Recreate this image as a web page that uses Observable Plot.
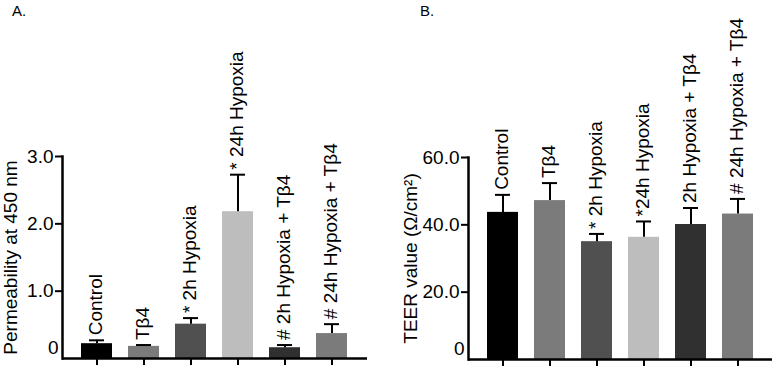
<!DOCTYPE html>
<html>
<head>
<meta charset="utf-8">
<script src="https://cdn.jsdelivr.net/npm/d3@7"></script>
<script src="https://cdn.jsdelivr.net/npm/@observablehq/plot@0.6"></script>
<style>
  html, body { margin: 0; padding: 0; background: #fff; }
  #wrap { position: relative; width: 773px; height: 371px; font-family: "Liberation Sans", Arial, sans-serif; }
  .panel { position: absolute; top: 0; }
  .tag { position: absolute; top: 3px; font-size: 15px; line-height: 15px; color: #000; }
</style>
</head>
<body>
<div id="wrap">
  <div id="A" class="panel" style="left:0px"></div>
  <div id="B" class="panel" style="left:390px"></div>
  <div class="tag" style="left:12px">A.</div>
  <div class="tag" style="left:420px">B.</div>
</div>
<script>
const categories = ["Control", "Tβ4", "2h Hypoxia", "24h Hypoxia", "2h Hypoxia + Tβ4", "24h Hypoxia + Tβ4"];
const barColors = ["#000000", "#7b7b7b", "#505050", "#bdbdbd", "#303030", "#7b7b7b"];

const permMean = [0.22, 0.18, 0.51, 2.18, 0.16, 0.37];
const permSD = [0.05, 0.02, 0.09, 0.55, 0.04, 0.14];
const permLabels = ["Control", "Tβ4", "* 2h Hypoxia", "* 24h Hypoxia", "# 2h Hypoxia + Tβ4", "# 24h Hypoxia + Tβ4"];
const permTicks = [1, 2, 3];

const teerMean = [43.7, 47.2, 35.0, 36.3, 40.1, 43.2];
const teerSD = [5.2, 5.2, 2.3, 4.7, 4.9, 4.5];
const teerLabels = ["Control", "Tβ4", "* 2h Hypoxia", "*24h Hypoxia", "2h Hypoxia + Tβ4", "# 24h Hypoxia + Tβ4"];
const teerTicks = [20, 40, 60];

function panel({mean, sd, labels, ticks, domain, title, width, marginLeft, marginRight, marginTop, marginBottom, xRange, titleOffset}) {
  const rows = categories.map((c, i) => ({name: c, value: mean[i], top: mean[i] + sd[i], label: labels[i], color: barColors[i]}));
  return Plot.plot({
    width, height: 371,
    marginLeft, marginRight, marginTop, marginBottom,
    style: {fontFamily: "Liberation Sans, Arial, sans-serif", fontSize: "19px", color: "#000", background: "transparent", overflow: "visible"},
    x: {domain: categories, range: xRange, paddingInner: 0.33, paddingOuter: 0, axis: null},
    y: {domain, axis: null},
    color: {type: "identity"},
    marks: [
      Plot.barY(rows, {x: "name", y: "value", fill: "color"}),
      Plot.ruleX(rows, {x: "name", y1: "value", y2: "top", stroke: "#000", strokeWidth: 2}),
      Plot.tickY(rows, {x: "name", y: "top", stroke: "#000", strokeWidth: 2, insetLeft: 8, insetRight: 8}),
      Plot.text(rows, {x: "name", y: "top", text: "label", rotate: -90, textAnchor: "start", lineAnchor: "middle", dx: -1.5, dy: -5, fontSize: 19, fill: "#000"}),
      Plot.axisY({ticks, tickFormat: (d) => d.toFixed(1), tickSize: 7, tickPadding: 2, strokeWidth: 2, label: null, fontSize: 19}),
      Plot.axisX({tickSize: 7, tickFormat: () => "", strokeWidth: 2, label: null}),
      Plot.ruleY([0], {stroke: "#000", strokeWidth: 2.5}),
      Plot.frame({anchor: "left", stroke: "#000", strokeWidth: 2.5}),
      Plot.text(["0"], {frameAnchor: "bottom-left", text: (d) => d, dx: -4, dy: -11, textAnchor: "end", lineAnchor: "middle", fontSize: 19}),
      Plot.text([title], {frameAnchor: "left", text: (d) => d, rotate: -90, dx: -titleOffset, textAnchor: "middle", lineAnchor: "middle", fontSize: 19})
    ]
  });
}

document.getElementById("A").appendChild(panel({
  mean: permMean, sd: permSD, labels: permLabels, ticks: permTicks, domain: [0, 3],
  title: "Permeability at 450 nm", width: 390, marginLeft: 62, marginRight: 23, marginTop: 156, marginBottom: 13,
  xRange: [79, 349], titleOffset: 52
}));
document.getElementById("B").appendChild(panel({
  mean: teerMean, sd: teerSD, labels: teerLabels, ticks: teerTicks, domain: [0, 60],
  title: "TEER value (Ω/cm²)", width: 383, marginLeft: 78, marginRight: 1, marginTop: 157, marginBottom: 12,
  xRange: [95.5, 365], titleOffset: 58
}));
</script>
</body>
</html>
